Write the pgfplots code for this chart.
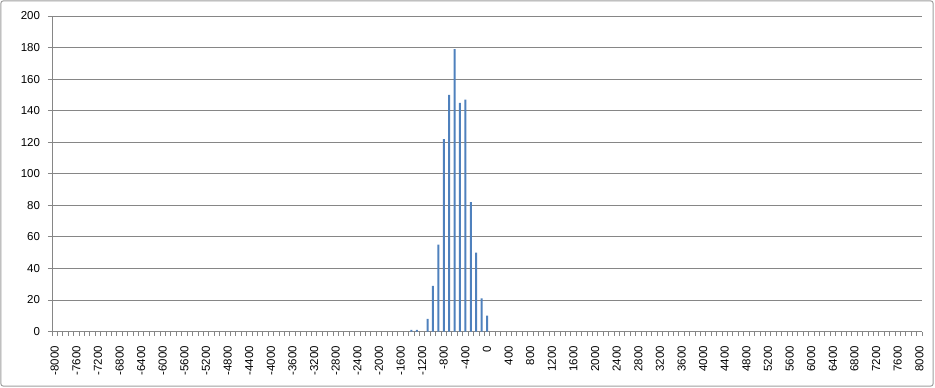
\documentclass[border=0pt]{standalone}
\usepackage{pgfplots}
\pgfplotsset{compat=1.18}
\usepackage{fontspec}
\setmainfont{Liberation Sans}
\definecolor{barblue}{HTML}{4F81BD}
\definecolor{gridgray}{HTML}{868686}
\begin{document}
\begin{tikzpicture}
\useasboundingbox (-52bp,-56.5bp) rectangle (883bp,331.5bp);
\draw[gridgray!80, line width=1bp, rounded corners=2bp] (-51bp,-54.5bp) rectangle (881bp,330.5bp);
\begin{axis}[
  at={(0,0)}, anchor=south west,
  scale only axis, width=870bp, height=315.5bp,
  xmin=-8050, xmax=8050, ymin=0, ymax=200,
  axis x line=bottom, axis y line=left,
  axis line style={-, draw=gridgray, line width=0.8bp},
  ytick={0,20,...,200},
  ymajorgrids, grid style={draw=gridgray, line width=0.8bp},
  tick align=outside,
  major tick length=4bp,
  tick style={draw=gridgray, line width=0.8bp},
  xtick={-8050,-7950,...,8050}, xticklabels={},
  extra x ticks={-8000,-7600,...,8000},
  extra x tick style={major tick length=0pt, grid=none,
     tick label style={yshift=-11bp, rotate=90, anchor=east}},
  y tick label style={xshift=-4.5bp},
  tick label style={font=\fontsize{11.5bp}{13bp}\selectfont},
  /pgf/number format/assume math mode=true,
  /pgf/number format/1000 sep={},
  ybar, bar width=2bp,
]
\addplot[fill=barblue, draw=none, bar shift=0pt] coordinates {
(-1400,1) (-1300,1) (-1100,8) (-1000,29) (-900,55) (-800,122) (-700,150)
(-600,179) (-500,145) (-400,147) (-300,82) (-200,50) (-100,21) (0,10)
};
\end{axis}
\end{tikzpicture}
\end{document}
